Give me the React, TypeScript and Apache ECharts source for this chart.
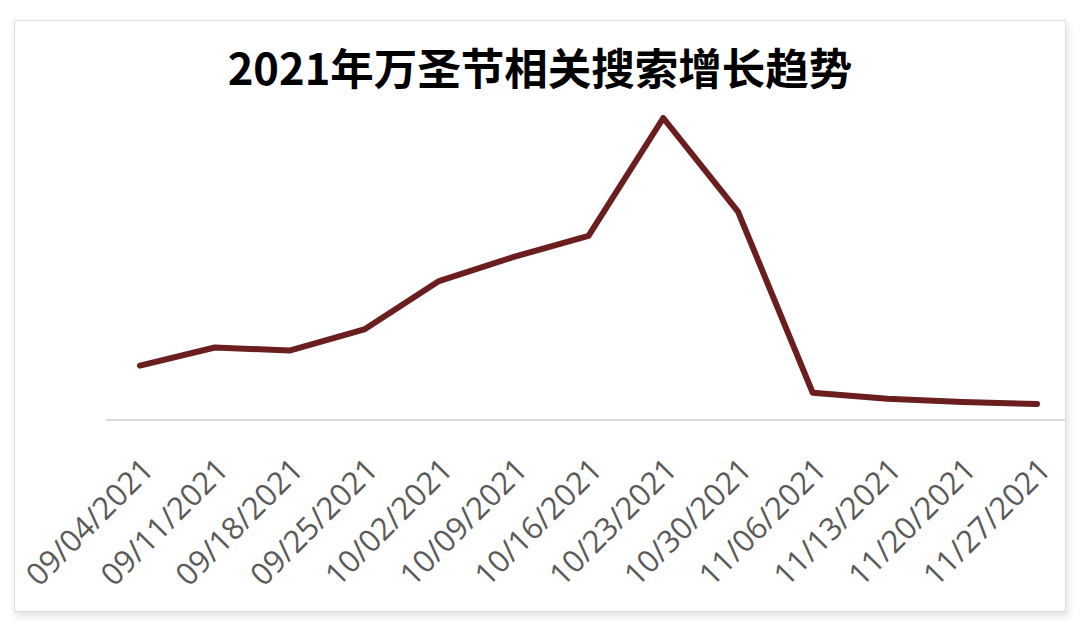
import React, { useEffect, useRef } from 'react';
import * as echarts from 'echarts';

// 每周日期
const weeks = [
  '09/04/2021', '09/11/2021', '09/18/2021', '09/25/2021', '10/02/2021',
  '10/09/2021', '10/16/2021', '10/23/2021', '10/30/2021', '11/06/2021',
  '11/13/2021', '11/20/2021', '11/27/2021'
];

// 搜索热度（峰值 = 100）
const searchIndex = [18, 24, 23, 30, 46, 54, 61, 100, 69, 9, 7, 6, 5.3];

const TITLE = '2021年万圣节相关搜索增长趋势';

const App: React.FC = () => {
  const chartRef = useRef<HTMLDivElement>(null);

  useEffect(() => {
    if (!chartRef.current) return;
    const chart = echarts.init(chartRef.current, null, { renderer: 'svg' });

    const option: echarts.EChartsOption = {
      animation: false,
      title: {
        text: TITLE,
        left: 'center',
        top: 40,
        textStyle: {
          fontFamily: '"Noto Sans CJK SC", sans-serif',
          fontSize: 43.5,
          fontWeight: 'bold',
          color: '#000'
        }
      },
      grid: [
        { left: 140, right: 43, top: 118, bottom: 211 },
        // 标签用的网格，稍微右移以对齐
        { left: 147, right: 36, top: 118, bottom: 211 }
      ],
      xAxis: [
        {
          type: 'category',
          gridIndex: 0,
          data: weeks,
          boundaryGap: false,
          axisLine: { show: false },
          axisTick: { show: false },
          axisLabel: { show: false }
        },
        {
          type: 'category',
          gridIndex: 1,
          data: weeks,
          boundaryGap: false,
          axisLine: { show: false },
          axisTick: { show: false },
          axisLabel: {
            rotate: 45,
            margin: 43,
            interval: 0,
            fontFamily: '"Open Sans", sans-serif',
            fontSize: 31,
            color: '#5a5a5a'
          }
        }
      ],
      yAxis: [
        { type: 'value', gridIndex: 0, min: 0, max: 100, show: false },
        { type: 'value', gridIndex: 1, min: 0, max: 100, show: false }
      ],
      graphic: [
        {
          type: 'line',
          shape: { x1: 106, y1: 420, x2: 1065, y2: 420 },
          style: { stroke: '#d9d9d9', lineWidth: 2 },
          z: 0
        }
      ],
      series: [
        {
          name: '搜索热度',
          type: 'line',
          xAxisIndex: 0,
          yAxisIndex: 0,
          data: searchIndex,
          symbol: 'none',
          lineStyle: { color: '#6b1e1e', width: 6, join: 'round', cap: 'round' },
          z: 3
        }
      ]
    };

    chart.setOption(option);
    return () => chart.dispose();
  }, []);

  return (
    <div style={{ position: 'fixed', left: 0, top: 0, width: 1080, height: 631, background: '#fff' }}>
      <div
        style={{
          position: 'absolute',
          left: 14,
          top: 20,
          width: 1052,
          height: 592,
          boxSizing: 'border-box',
          border: '1px solid #dcdcdc',
          boxShadow: '2px 4px 8px rgba(0,0,0,0.12)',
          background: '#fff'
        }}
      />
      <div ref={chartRef} style={{ position: 'absolute', left: 0, top: 0, width: 1080, height: 631 }} />
    </div>
  );
};

export default App;
